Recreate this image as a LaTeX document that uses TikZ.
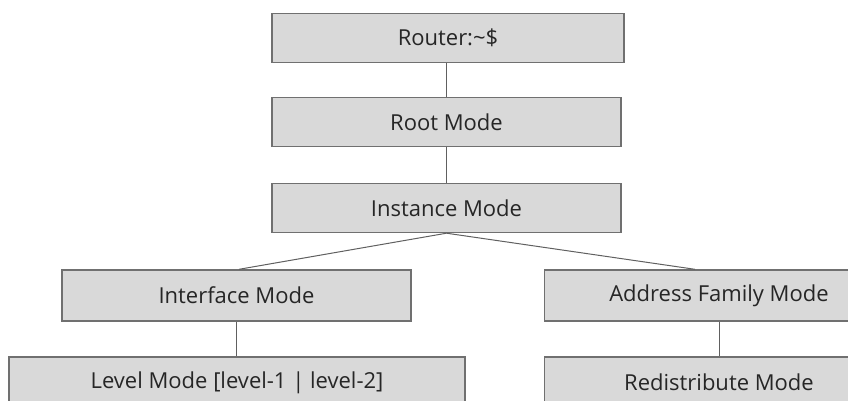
\documentclass[tikz,border=0pt]{standalone}
\usepackage{fontspec}
\setmainfont{Open Sans}
\usepackage{xcolor}
\usepackage{tikz}
\usetikzlibrary{calc,positioning}
\definecolor{boxfill}{RGB}{217,217,217}
\definecolor{boxline}{RGB}{112,112,112}
\definecolor{linkline}{RGB}{96,96,96}
\definecolor{modetext}{RGB}{38,38,38}
\tikzset{
  mode_n/.style = {rectangle, draw=boxline, fill=boxfill, line width=1.4pt, text=modetext, font=\fontsize{22}{26}\selectfont, align=center, inner sep=0pt, minimum height=49pt},
  mode_w/.style = {mode_n, minimum width=349pt},
  link_l/.style = {draw=linkline, line width=1pt}
}

\begin{document}
\begin{tikzpicture}[x=1pt,y=-1pt]
			\useasboundingbox (0,0) rectangle (848,401);
			\clip (0,0) rectangle (848,401);
			% top column
			\node[mode_n, minimum width=352pt] (router) at (448,38) {Router:\textasciitilde\$};
			\node[mode_w] (root) at (446.5,122) {Root Mode};
			\node[mode_w] (instance) at (446.5,208) {Instance Mode};
			% second level
			\node[mode_w, minimum height=51pt] (interface) at (236.5,295.5) {Interface Mode};
			\node[mode_w, minimum height=51pt] (family) at (719,295.5) {Address Family Mode};
			\node[mode_n, minimum width=456pt, minimum height=51pt] (level) at (237,382.5) {Level Mode [level-1 | level-2]};
			\node[mode_w, minimum height=51pt] (redist) at (719,382.5) {Redistribute Mode};
			% links
			\draw[link_l] (router.south -| root.north) -- (root.north);
			\draw[link_l] (root.south) -- (instance.north);
			\draw[link_l] (instance.south) -- ([xshift=2.5pt]interface.north);
			\draw[link_l] (instance.south) -- ([xshift=-24pt]family.north);
			\draw[link_l] (interface.south) -- (interface.south |- level.north);
			\draw[link_l] (family.south) -- (redist.north);
\end{tikzpicture}
\end{document}
